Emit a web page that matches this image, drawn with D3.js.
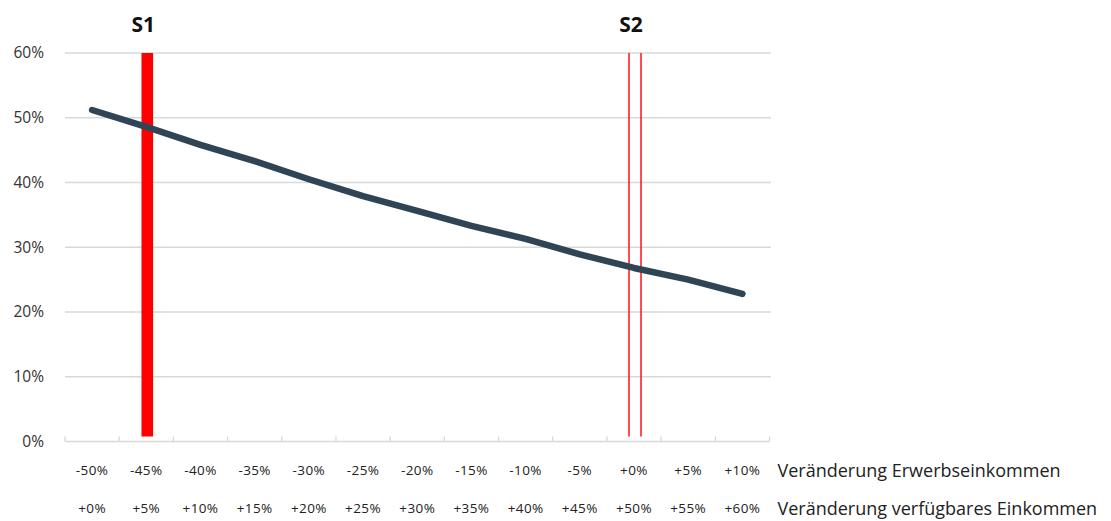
<!DOCTYPE html>
<html>
<head>
<meta charset="utf-8">
<script src="https://cdn.jsdelivr.net/npm/d3@7"></script>
<style>
  body { margin: 0; background: #fff; }
  svg { font-family: 'Open Sans', sans-serif; }
</style>
</head>
<body>
<div id="chart"></div>
<script>
// Kategorien (zwei Beschriftungszeilen)
const erwerbLabels = ['-50%', '-45%', '-40%', '-35%', '-30%', '-25%', '-20%', '-15%', '-10%', '-5%', '+0%', '+5%', '+10%']
const verfuegbarLabels = ['+0%', '+5%', '+10%', '+15%', '+20%', '+25%', '+30%', '+35%', '+40%', '+45%', '+50%', '+55%', '+60%']
const rowTitles = ['Veränderung Erwerbseinkommen', 'Veränderung verfügbares Einkommen']

// Werte der Linie in Prozent
const quote = [51.2, 48.6, 45.8, 43.3, 40.5, 37.9, 35.6, 33.3, 31.3, 28.9, 26.8, 25.0, 22.8]

const yTicks = [0, 10, 20, 30, 40, 50, 60]

// Markierungen S1 / S2
const markerNames = ['S1', 'S2']
const markerCats = ['-45%', '+0%']
const markerFilled = [true, false]

const w = 1111
const h = 521
const plotLeft = 65
const plotRight = 769.5
const plotTop = 53
const plotBottom = 441.5

const svg = d3.select('#chart').append('svg')
  .attr('width', w)
  .attr('height', h)

const x = d3.scaleBand()
  .domain(erwerbLabels)
  .range([plotLeft, plotRight])
  .padding(0)

const y = d3.scaleLinear()
  .domain([0, 60])
  .range([plotBottom, plotTop])

// Gitterlinien
svg.append('g')
  .selectAll('line')
  .data(yTicks.filter(d => d > 0))
  .enter().append('line')
  .attr('x1', plotLeft)
  .attr('x2', plotRight + 1.5)
  .attr('y1', d => y(d))
  .attr('y2', d => y(d))
  .attr('stroke', '#d9d9d9')
  .attr('stroke-width', 1.3)

// Y-Achse Beschriftung
svg.append('g')
  .selectAll('text')
  .data(yTicks)
  .enter().append('text')
  .attr('x', 44)
  .attr('y', d => y(d))
  .attr('dy', '0.35em')
  .attr('text-anchor', 'end')
  .attr('font-size', 15.5)
  .attr('fill', '#333')
  .text(d => d + '%')

// X-Achse
svg.append('line')
  .attr('x1', plotLeft)
  .attr('x2', plotRight)
  .attr('y1', plotBottom)
  .attr('y2', plotBottom)
  .attr('stroke', '#d9d9d9')
  .attr('stroke-width', 1.5)

svg.append('g')
  .selectAll('line')
  .data(d3.range(erwerbLabels.length + 1))
  .enter().append('line')
  .attr('x1', i => plotLeft + i * x.step())
  .attr('x2', i => plotLeft + i * x.step())
  .attr('y1', plotBottom)
  .attr('y2', plotBottom - 5)
  .attr('stroke', '#d9d9d9')
  .attr('stroke-width', 1.3)

const rowY = [470, 508]
const rows = [erwerbLabels, verfuegbarLabels]

rows.forEach(function (labels, r) {
  svg.append('g')
    .selectAll('text')
    .data(labels)
    .enter().append('text')
    .attr('x', (d, i) => x(erwerbLabels[i]) + x.bandwidth() / 2)
    .attr('y', rowY[r])
    .attr('dy', '0.35em')
    .attr('text-anchor', 'middle')
    .attr('font-size', 13.5)
    .attr('letter-spacing', 0.4)
    .attr('fill', '#222')
    .text(d => d)

  svg.append('text')
    .attr('x', plotRight + 8)
    .attr('y', rowY[r] + 1)
    .attr('dy', '0.35em')
    .attr('font-size', 18)
    .attr('fill', '#222')
    .text(rowTitles[r])
})

// Markierungen
markerNames.forEach(function (name, i) {
  let cx = x(markerCats[i]) + x.bandwidth() / 2 + 1
  if (markerFilled[i]) {
    svg.append('rect')
      .attr('x', cx - 5.8)
      .attr('width', 11.6)
      .attr('y', y(60))
      .attr('height', y(0) - 5 - y(60))
      .attr('fill', '#ff0000')
  } else {
    [-6, 6].forEach(function (off) {
      svg.append('line')
        .attr('x1', cx + off)
        .attr('x2', cx + off)
        .attr('y1', y(60))
        .attr('y2', y(0) - 5)
        .attr('stroke', '#ff0000')
        .attr('stroke-width', 1.4)
    })
  }
  svg.append('text')
    .attr('x', cx - 4)
    .attr('y', 25)
    .attr('dy', '0.35em')
    .attr('text-anchor', 'middle')
    .attr('font-size', 21)
    .attr('font-weight', 'bold')
    .attr('fill', '#111')
    .text(name)
})

// Linie
const line = d3.line()
  .x((d, i) => x(erwerbLabels[i]) + x.bandwidth() / 2)
  .y(d => y(d))

svg.append('path')
  .datum(quote)
  .attr('d', line)
  .attr('fill', 'none')
  .attr('stroke', '#2f4556')
  .attr('stroke-width', 6.5)
  .attr('stroke-linecap', 'round')
  .attr('stroke-linejoin', 'round')
</script>
</body>
</html>
